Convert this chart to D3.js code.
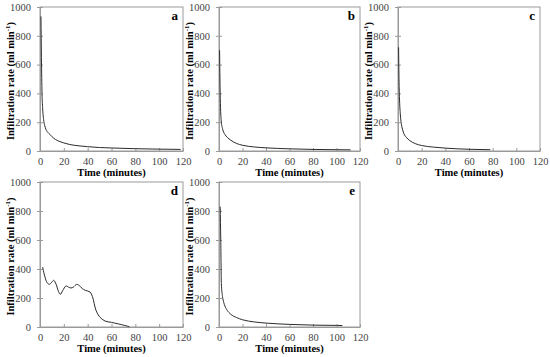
<!DOCTYPE html>
<html>
<head>
<meta charset="utf-8">
<script src="https://cdn.jsdelivr.net/npm/d3@7"></script>
<style>
  html, body { margin: 0; padding: 0; background: #fff; }
  svg { display: block; }
  svg text { font-family: "Liberation Serif", "Times New Roman", "DejaVu Serif", serif; }
</style>
</head>
<body>
<div id="chart"></div>
<script>
(function () {
  // Infiltration rate (ml/min) vs time (minutes)
  const timeA = [0.8, 1.2, 1.7, 2.2, 3, 4, 5, 6.5, 8.4, 10, 13, 16.8, 20, 25, 33.6, 40, 50, 60, 80, 100, 118];
  const rateA = [935, 650, 400, 300, 220, 175, 150, 130, 115, 100, 80, 65, 56, 45, 35, 30, 24, 21, 16, 13, 11];

  const timeB = [0.5, 0.8, 1.2, 2, 3, 4, 5, 7, 10, 15, 20, 30, 40, 60, 80, 100, 112];
  const rateB = [700, 500, 330, 200, 155, 130, 115, 95, 75, 52, 40, 28, 22, 15, 11, 9, 8];

  const timeC = [0.5, 0.8, 1.2, 2, 3, 4, 5, 7, 10, 15, 20, 30, 40, 60, 78];
  const rateC = [720, 520, 380, 250, 180, 145, 120, 95, 72, 50, 38, 27, 20, 12, 9];

  const timeD = [2.2, 4, 6, 7.8, 10, 11.5, 13.5, 15.5, 17, 19, 21.8, 24, 26, 28, 30.8, 33, 35.5, 38, 42, 44, 47, 50, 54.6, 60, 71, 75];
  const rateD = [414, 350, 305, 294, 310, 322, 295, 245, 225, 250, 283, 275, 269, 275, 294, 285, 265, 253, 241, 210, 115, 70, 41, 32, 11, 2];

  const timeE = [1, 1.5, 2, 3, 4, 5, 7, 10, 15, 20, 30, 40, 60, 80, 100, 105];
  const rateE = [830, 600, 300, 210, 170, 145, 115, 88, 65, 50, 35, 27, 18, 13, 11, 10];

  const panelLabels = ["a", "b", "c", "d", "e"];
  const xTicks = [0, 20, 40, 60, 80, 100, 120];
  const yTicks = [0, 200, 400, 600, 800, 1000];
  const xTitle = "Time (minutes)";

  const series = [
    { t: timeA, r: rateA, smooth: false },
    { t: timeB, r: rateB, smooth: false },
    { t: timeC, r: rateC, smooth: false },
    { t: timeD, r: rateD, smooth: true },
    { t: timeE, r: rateE, smooth: false }
  ];

  // plot boxes (left, top, right, bottom) in px
  const BOXES = [
    [40, 7, 183, 151],
    [219, 7, 360, 151],
    [398, 7, 540, 151],
    [40, 182, 183, 327],
    [219, 182, 360, 327]
  ];

  const W = 550, H = 357;
  const FONT = '"Liberation Serif", "Times New Roman", "DejaVu Serif", serif';
  const AXIS_COLOR = "#9a9a9a";

  const svg = d3.select("#chart").append("svg")
    .attr("width", W)
    .attr("height", H)
    .attr("viewBox", `0 0 ${W} ${H}`);

  series.forEach((s, i) => {
    const [l, t, r, b] = BOXES[i];
    const x = d3.scaleLinear().domain([0, 120]).range([l, r]);
    const y = d3.scaleLinear().domain([0, 1000]).range([b, t]);
    const g = svg.append("g");

    // frame
    g.append("rect")
      .attr("x", l).attr("y", t)
      .attr("width", r - l).attr("height", b - t)
      .attr("fill", "none")
      .attr("stroke", AXIS_COLOR)
      .attr("stroke-width", 1);

    const xAxis = g.append("g")
      .attr("transform", `translate(0,${b})`)
      .call(d3.axisBottom(x).tickValues(xTicks).tickFormat(d3.format("d"))
        .tickSizeInner(-3).tickSizeOuter(0).tickPadding(7));
    const yAxis = g.append("g")
      .attr("transform", `translate(${l},0)`)
      .call(d3.axisLeft(y).tickValues(yTicks).tickFormat(d3.format("d"))
        .tickSizeInner(3).tickSizeOuter(0).tickPadding(6));

    [xAxis, yAxis].forEach(ax => {
      ax.attr("font-family", FONT);
      ax.select(".domain").attr("stroke", AXIS_COLOR);
      ax.selectAll(".tick line").attr("stroke", AXIS_COLOR);
      ax.selectAll(".tick text")
        .attr("fill", "#444")
        .style("font-size", "10.5px");
    });
    yAxis.selectAll(".tick line").attr("x1", -3).attr("x2", 3);

    // curve
    const line = d3.line()
      .x((d, k) => x(s.t[k]))
      .y(d => y(d))
      .curve(s.smooth ? d3.curveCatmullRom.alpha(0.5) : d3.curveMonotoneX);
    g.append("path")
      .datum(s.r)
      .attr("d", line)
      .attr("fill", "none")
      .attr("stroke", "#2b2b2b")
      .attr("stroke-width", 1);

    // panel letter
    g.append("text")
      .attr("x", r - 5).attr("y", t + 13)
      .attr("text-anchor", "end")
      .style("font-size", "13px")
      .style("font-weight", "bold")
      .text(panelLabels[i]);

    // x title
    g.append("text")
      .attr("x", (l + r) / 2).attr("y", b + 25)
      .attr("text-anchor", "middle")
      .style("font-size", "10.5px")
      .style("font-weight", "bold")
      .text(xTitle);

    // y title with superscript
    const yt = g.append("text")
      .attr("transform", `translate(${l - 26},${(t + b) / 2 + 2}) rotate(-90)`)
      .attr("text-anchor", "middle")
      .style("font-size", "10.5px")
      .style("font-weight", "bold");
    yt.append("tspan").text("Infiltration rate (ml min");
    yt.append("tspan").attr("dy", -4).style("font-size", "7px").text("-1");
    yt.append("tspan").attr("dy", 4).text(")");
  });
})();
</script>
</body>
</html>
